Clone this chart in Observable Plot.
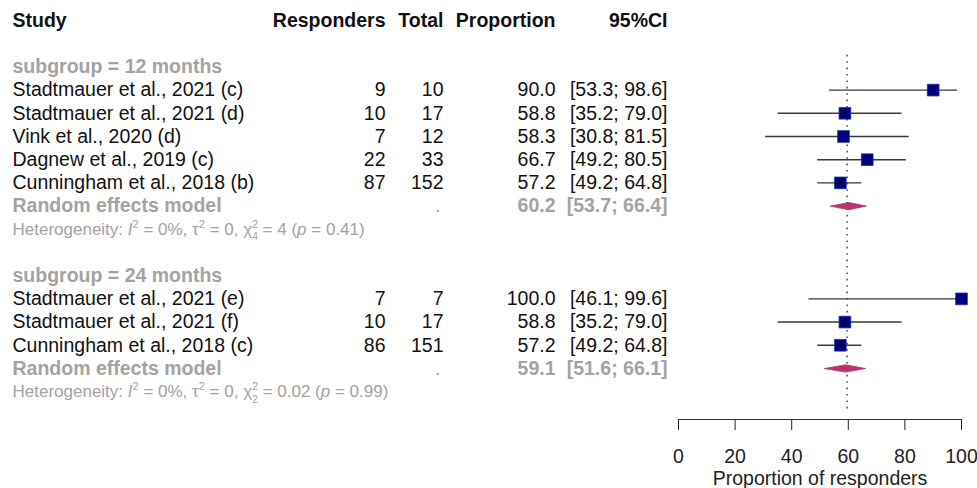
<!DOCTYPE html>
<html>
<head>
<meta charset="utf-8">
<script src="https://cdn.jsdelivr.net/npm/d3@7"></script>
<script src="https://cdn.jsdelivr.net/npm/@observablehq/plot@0.6"></script>
<style>
  html, body { margin: 0; padding: 0; background: #fff; }
  #chart { width: 977px; height: 488px; overflow: hidden; }
</style>
</head>
<body>
<div id="chart"></div>
<script>
// ---------- data ----------
const groups = ["12 months", "24 months"];
const studyNames = [
  "Stadtmauer et al., 2021 (c)",
  "Stadtmauer et al., 2021 (d)",
  "Vink et al., 2020 (d)",
  "Dagnew et al., 2019 (c)",
  "Cunningham et al., 2018 (b)",
  "Stadtmauer et al., 2021 (e)",
  "Stadtmauer et al., 2021 (f)",
  "Cunningham et al., 2018 (c)"
];
const studyGroups = ["12 months", "12 months", "12 months", "12 months", "12 months", "24 months", "24 months", "24 months"];
const responders = [9, 10, 7, 22, 87, 7, 10, 86];
const totals = [10, 17, 12, 33, 152, 7, 17, 151];
const proportions = [90.0, 58.8, 58.3, 66.7, 57.2, 100.0, 58.8, 57.2];
const ciLower = [53.3, 35.2, 30.8, 49.2, 49.2, 46.1, 35.2, 49.2];
const ciUpper = [98.6, 79.0, 81.5, 80.5, 64.8, 99.6, 79.0, 64.8];
const pooledEst = [60.2, 59.1];
const pooledLower = [53.7, 51.6];
const pooledUpper = [66.4, 66.1];
const hetI2 = ["0%", "0%"];
const hetTau2 = ["0", "0"];
const hetDf = ["4", "2"];
const hetChi2 = ["4", "0.02"];
const hetP = ["0.41", "0.99"];
const headerLabels = ["Study", "Responders", "Total", "Proportion", "95%CI"];
const xTicks = [0, 20, 40, 60, 80, 100];
const axisTitle = "Proportion of responders";
const referenceValue = 59.6;

// ---------- layout / style ----------
const FONT = "'Liberation Sans', Arial, Helvetica, sans-serif";
const FS = 19.5;
const FS_HET = 17;
const BLACK = "#111";
const GREY = "#a3a3a3";
const NAVY = "#000080";
const DIAMOND = "#b8336a";
const col = {study: 12, resp: 385, total: 443, prop: 555, ci: 667};
const axisRow = 17.2;

// ---------- build rows ----------
const studyRows = [], groupRows = [], pooledRows = [], hetRows = [];
let r = 2;
groups.forEach((g, gi) => {
  groupRows.push({row: r++, label: "subgroup = " + g});
  studyNames.forEach((s, i) => {
    if (studyGroups[i] === g) studyRows.push({
      row: r++, study: s, resp: responders[i], total: totals[i],
      prop: proportions[i], lo: ciLower[i], hi: ciUpper[i]
    });
  });
  pooledRows.push({row: r++, est: pooledEst[gi], lo: pooledLower[gi], hi: pooledUpper[gi]});
  hetRows.push({row: r++, gi});
  r++;
});
const fmt = v => v.toFixed(1);
const ci = (lo, hi) => `[${fmt(lo)}; ${fmt(hi)}]`;
const headerRows = headerLabels.map(h => ({row: 0, label: h}));
const dh = 0.155;
const diamondPts = pooledRows.flatMap((p, i) => [
  {x: p.lo, y: p.row, z: i}, {x: p.est, y: p.row - dh, z: i},
  {x: p.hi, y: p.row, z: i}, {x: p.est, y: p.row + dh, z: i}
]);

const colText = (data, text, dx, anchor, fill, weight, size = FS) =>
  Plot.text(data, {y: "row", text, frameAnchor: "left", dx, textAnchor: anchor,
    fill, fontWeight: weight, fontSize: size, lineAnchor: "middle"});

const plot = Plot.plot({
  width: 977,
  height: 488,
  marginLeft: 0,
  marginRight: 0,
  marginTop: 20,
  marginBottom: 69,
  style: {fontFamily: FONT, fontSize: FS + "px", color: "#222", background: "#fff"},
  x: {domain: d3.extent(xTicks), range: [678, 961], ticks: xTicks, tickSize: 11, tickPadding: 19, label: null},
  y: {domain: [0, axisRow], reverse: true, axis: null},
  marks: [
    // headers
    colText([headerRows[0]], "label", col.study, "start", BLACK, "bold"),
    colText([headerRows[1]], "label", col.resp, "end", BLACK, "bold"),
    colText([headerRows[2]], "label", col.total, "end", BLACK, "bold"),
    colText([headerRows[3]], "label", col.prop, "end", BLACK, "bold"),
    colText([headerRows[4]], "label", col.ci, "end", BLACK, "bold"),
    // subgroup labels
    colText(groupRows, "label", col.study, "start", GREY, "bold"),
    // study rows
    colText(studyRows, "study", col.study, "start", BLACK, "normal"),
    colText(studyRows, d => String(d.resp), col.resp, "end", BLACK, "normal"),
    colText(studyRows, d => String(d.total), col.total, "end", BLACK, "normal"),
    colText(studyRows, d => fmt(d.prop), col.prop, "end", BLACK, "normal"),
    colText(studyRows, d => ci(d.lo, d.hi), col.ci, "end", BLACK, "normal"),
    // pooled rows
    colText(pooledRows, () => "Random effects model", col.study, "start", GREY, "bold"),
    colText(pooledRows, () => ".", col.total - 3, "end", GREY, "normal"),
    colText(pooledRows, d => fmt(d.est), col.prop, "end", GREY, "bold"),
    colText(pooledRows, d => ci(d.lo, d.hi), col.ci, "end", GREY, "bold"),
    // heterogeneity
    colText(hetRows, d => `Heterogeneity: I2 = ${hetI2[d.gi]}, t2 = ${hetTau2[d.gi]}, x2 = ${hetChi2[d.gi]} (p = ${hetP[d.gi]})`,
      col.study, "start", GREY, "normal", FS_HET),
    // reference line
    Plot.ruleX([referenceValue], {y1: 1.5, y2: 16.95, stroke: "#555", strokeWidth: 1.6, strokeDasharray: "1.6,4.8"}),
    // CI lines
    Plot.ruleY(studyRows, {y: "row", x1: "lo", x2: "hi", stroke: "#3a3a3a", strokeWidth: 1.4}),
    // squares
    Plot.dot(studyRows, {x: "prop", y: "row", symbol: "square", r: 6.6, fill: NAVY, stroke: "#1f2d9e", strokeWidth: 0.8}),
    Plot.ruleX(studyRows, {x: "prop", y1: d => d.row - 0.13, y2: d => d.row + 0.13, stroke: "#000", strokeWidth: 1}),
    // diamonds
    Plot.line(diamondPts, {x: "x", y: "y", z: "z", curve: "linear-closed", fill: DIAMOND, stroke: DIAMOND, strokeWidth: 0.8}),
    // axis baseline
    Plot.ruleY([axisRow], {x1: d3.min(xTicks), x2: d3.max(xTicks), stroke: "#333", strokeWidth: 1.2}),
    // axis title
    Plot.text([axisTitle], {x: d3.mean(d3.extent(xTicks)), frameAnchor: "bottom", dy: 59, text: d => d,
      fontSize: FS, fill: "#222", lineAnchor: "middle"})
  ]
});
document.getElementById("chart").appendChild(plot);

// rich heterogeneity text (italic symbols, super/subscripts)
const NS = "http://www.w3.org/2000/svg";
function span(parent, txt, attrs = {}) {
  const t = document.createElementNS(NS, "tspan");
  for (const [k, v] of Object.entries(attrs)) t.setAttribute(k, v);
  t.textContent = txt;
  parent.appendChild(t);
}
const hetTexts = Array.from(plot.querySelectorAll("text"))
  .filter(el => el.textContent.startsWith("Heterogeneity:"));
hetTexts.forEach((el, i) => {
  const gi = hetRows[i].gi;
  el.textContent = "";
  const sup = "11px";
  const sub = "10px";
  span(el, "Heterogeneity: ");
  span(el, "I", {"font-style": "italic"});
  span(el, "2", {"font-size": sup, dy: "-7"});
  span(el, ` = ${hetI2[gi]}, \u03C4`, {dy: "7"});
  span(el, "2", {"font-size": sup, dy: "-7"});
  span(el, ` = ${hetTau2[gi]}, \u03C7`, {dy: "7"});
  span(el, "2", {"font-size": sup, dy: "-7"});
  span(el, hetDf[gi], {"font-size": sub, dx: "-5.9", dy: "12.5"});
  span(el, ` = ${hetChi2[gi]} (`, {dy: "-5.5"});
  span(el, "p", {"font-style": "italic"});
  span(el, ` = ${hetP[gi]})`);
});
</script>
</body>
</html>
